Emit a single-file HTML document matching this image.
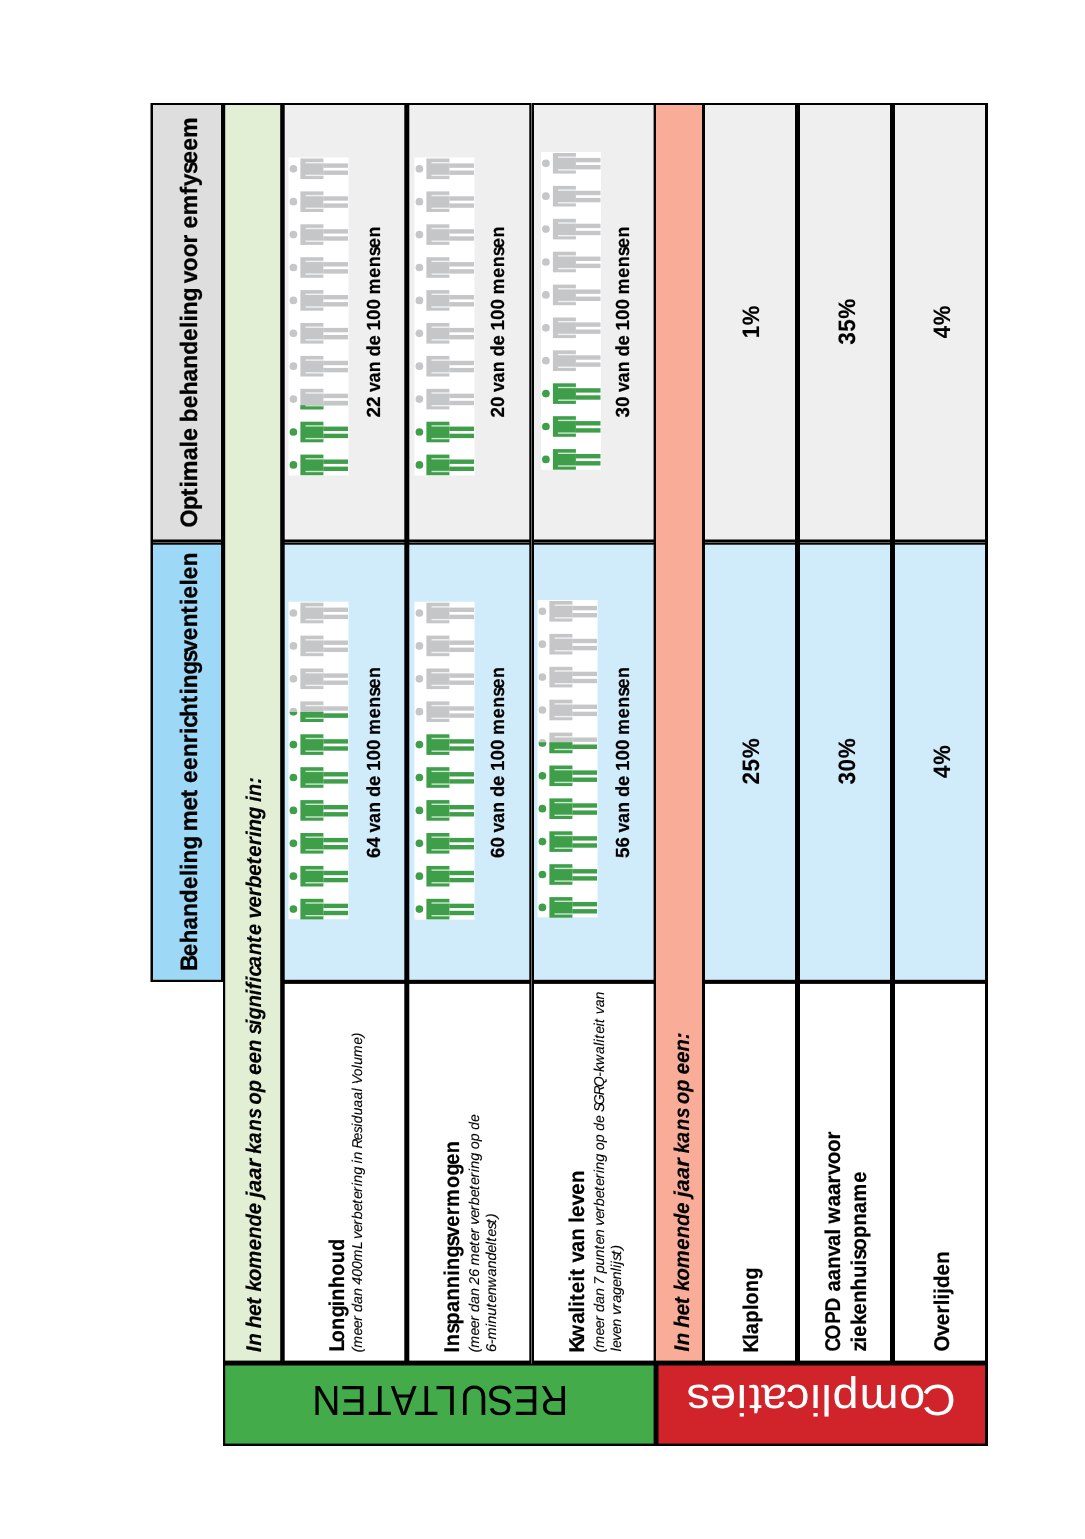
<!DOCTYPE html>
<html lang="nl"><head><meta charset="utf-8"><title>Keuzehulp</title>
<style>
html,body{margin:0;padding:0;background:#fff}
svg{display:block}
text{font-family:"Liberation Sans",sans-serif;text-rendering:geometricPrecision}
</style></head><body>
<svg width="1085" height="1539" viewBox="0 0 1085 1539">
<rect x="150.5" y="103" width="73" height="879" fill="#000"/>
<rect x="223" y="103" width="765" height="1343" fill="#000"/>
<rect x="153" y="105" width="68" height="434.5" fill="#dededf"/>
<rect x="153" y="544.7" width="68" height="435.1" fill="#9dd8f6"/>
<rect x="153" y="542.05" width="68" height="0.8" fill="#7a7a7a"/>
<rect x="225.2" y="105" width="55" height="1255.6" fill="#e2efd5"/>
<rect x="656" y="105" width="46" height="1255.6" fill="#f9ad99"/>
<rect x="284.7" y="105" width="119.6" height="434.5" fill="#efefef"/>
<rect x="284.7" y="544.7" width="119.6" height="435.1" fill="#d0ecfb"/>
<rect x="284.7" y="983.9" width="119.6" height="376.7" fill="#fff"/>
<rect x="284.7" y="542.05" width="119.6" height="0.8" fill="#7a7a7a"/>
<rect x="409.3" y="105" width="120" height="434.5" fill="#efefef"/>
<rect x="409.3" y="544.7" width="120" height="435.1" fill="#d0ecfb"/>
<rect x="409.3" y="983.9" width="120" height="376.7" fill="#fff"/>
<rect x="409.3" y="542.05" width="120" height="0.8" fill="#7a7a7a"/>
<rect x="534" y="105" width="119.6" height="434.5" fill="#efefef"/>
<rect x="534" y="544.7" width="119.6" height="435.1" fill="#d0ecfb"/>
<rect x="534" y="983.9" width="119.6" height="376.7" fill="#fff"/>
<rect x="534" y="542.05" width="119.6" height="0.8" fill="#7a7a7a"/>
<rect x="705" y="105" width="90" height="434.5" fill="#efefef"/>
<rect x="705" y="544.7" width="90" height="435.1" fill="#d0ecfb"/>
<rect x="705" y="983.9" width="90" height="376.7" fill="#fff"/>
<rect x="705" y="542.05" width="90" height="0.8" fill="#7a7a7a"/>
<rect x="800" y="105" width="90" height="434.5" fill="#efefef"/>
<rect x="800" y="544.7" width="90" height="435.1" fill="#d0ecfb"/>
<rect x="800" y="983.9" width="90" height="376.7" fill="#fff"/>
<rect x="800" y="542.05" width="90" height="0.8" fill="#7a7a7a"/>
<rect x="895" y="105" width="90" height="434.5" fill="#efefef"/>
<rect x="895" y="544.7" width="90" height="435.1" fill="#d0ecfb"/>
<rect x="895" y="983.9" width="90" height="376.7" fill="#fff"/>
<rect x="895" y="542.05" width="90" height="0.8" fill="#7a7a7a"/>
<rect x="531.1" y="103" width="0.85" height="1260.5" fill="#808080"/>
<rect x="225.2" y="1365.5" width="428.4" height="78.1" fill="#43ab49"/>
<rect x="658.5" y="1365.5" width="326.5" height="78.1" fill="#d1232a"/>
<rect x="288.5" y="157.5" width="60" height="318" fill="#fff"/>
<circle cx="293.4" cy="168.8" r="3.85" fill="#c5c6c8"/><rect x="300.4" y="158.5" width="23" height="20.6" fill="#c5c6c8"/><rect x="323.3" y="163.4" width="24.7" height="4.4" fill="#c5c6c8"/><rect x="323.3" y="170.5" width="24.7" height="4.4" fill="#c5c6c8"/><rect x="305.5" y="162" width="17.9" height="1.4" fill="#fff" fill-opacity="0.75"/><rect x="305.5" y="174.7" width="17.9" height="1.4" fill="#fff" fill-opacity="0.75"/>
<circle cx="293.4" cy="201.7" r="3.85" fill="#c5c6c8"/><rect x="300.4" y="191.4" width="23" height="20.6" fill="#c5c6c8"/><rect x="323.3" y="196.3" width="24.7" height="4.4" fill="#c5c6c8"/><rect x="323.3" y="203.4" width="24.7" height="4.4" fill="#c5c6c8"/><rect x="305.5" y="194.9" width="17.9" height="1.4" fill="#fff" fill-opacity="0.75"/><rect x="305.5" y="207.6" width="17.9" height="1.4" fill="#fff" fill-opacity="0.75"/>
<circle cx="293.4" cy="234.6" r="3.85" fill="#c5c6c8"/><rect x="300.4" y="224.3" width="23" height="20.6" fill="#c5c6c8"/><rect x="323.3" y="229.2" width="24.7" height="4.4" fill="#c5c6c8"/><rect x="323.3" y="236.3" width="24.7" height="4.4" fill="#c5c6c8"/><rect x="305.5" y="227.8" width="17.9" height="1.4" fill="#fff" fill-opacity="0.75"/><rect x="305.5" y="240.5" width="17.9" height="1.4" fill="#fff" fill-opacity="0.75"/>
<circle cx="293.4" cy="267.5" r="3.85" fill="#c5c6c8"/><rect x="300.4" y="257.2" width="23" height="20.6" fill="#c5c6c8"/><rect x="323.3" y="262.1" width="24.7" height="4.4" fill="#c5c6c8"/><rect x="323.3" y="269.2" width="24.7" height="4.4" fill="#c5c6c8"/><rect x="305.5" y="260.7" width="17.9" height="1.4" fill="#fff" fill-opacity="0.75"/><rect x="305.5" y="273.4" width="17.9" height="1.4" fill="#fff" fill-opacity="0.75"/>
<circle cx="293.4" cy="300.4" r="3.85" fill="#c5c6c8"/><rect x="300.4" y="290.1" width="23" height="20.6" fill="#c5c6c8"/><rect x="323.3" y="295" width="24.7" height="4.4" fill="#c5c6c8"/><rect x="323.3" y="302.1" width="24.7" height="4.4" fill="#c5c6c8"/><rect x="305.5" y="293.6" width="17.9" height="1.4" fill="#fff" fill-opacity="0.75"/><rect x="305.5" y="306.3" width="17.9" height="1.4" fill="#fff" fill-opacity="0.75"/>
<circle cx="293.4" cy="333.3" r="3.85" fill="#c5c6c8"/><rect x="300.4" y="323" width="23" height="20.6" fill="#c5c6c8"/><rect x="323.3" y="327.9" width="24.7" height="4.4" fill="#c5c6c8"/><rect x="323.3" y="335" width="24.7" height="4.4" fill="#c5c6c8"/><rect x="305.5" y="326.5" width="17.9" height="1.4" fill="#fff" fill-opacity="0.75"/><rect x="305.5" y="339.2" width="17.9" height="1.4" fill="#fff" fill-opacity="0.75"/>
<circle cx="293.4" cy="366.2" r="3.85" fill="#c5c6c8"/><rect x="300.4" y="355.9" width="23" height="20.6" fill="#c5c6c8"/><rect x="323.3" y="360.8" width="24.7" height="4.4" fill="#c5c6c8"/><rect x="323.3" y="367.9" width="24.7" height="4.4" fill="#c5c6c8"/><rect x="305.5" y="359.4" width="17.9" height="1.4" fill="#fff" fill-opacity="0.75"/><rect x="305.5" y="372.1" width="17.9" height="1.4" fill="#fff" fill-opacity="0.75"/>
<circle cx="293.4" cy="399.1" r="3.85" fill="#c5c6c8"/><rect x="300.4" y="388.8" width="23" height="20.6" fill="#c5c6c8"/><rect x="323.3" y="393.7" width="24.7" height="4.4" fill="#c5c6c8"/><rect x="323.3" y="400.8" width="24.7" height="4.4" fill="#c5c6c8"/><rect x="305.5" y="392.3" width="17.9" height="1.4" fill="#fff" fill-opacity="0.75"/><rect x="305.5" y="405" width="17.9" height="1.4" fill="#fff" fill-opacity="0.75"/>
<clipPath id="c1"><rect x="288.5" y="405.28" width="60" height="5.12"/></clipPath>
<g clip-path="url(#c1)"><circle cx="293.4" cy="399.1" r="3.85" fill="#3f9e4a"/><rect x="300.4" y="388.8" width="23" height="20.6" fill="#3f9e4a"/><rect x="323.3" y="393.7" width="24.7" height="4.4" fill="#3f9e4a"/><rect x="323.3" y="400.8" width="24.7" height="4.4" fill="#3f9e4a"/><rect x="305.5" y="392.3" width="17.9" height="1.4" fill="#fff" fill-opacity="0.75"/><rect x="305.5" y="405" width="17.9" height="1.4" fill="#fff" fill-opacity="0.75"/></g>
<circle cx="293.4" cy="432" r="3.85" fill="#3f9e4a"/><rect x="300.4" y="421.7" width="23" height="20.6" fill="#3f9e4a"/><rect x="323.3" y="426.6" width="24.7" height="4.4" fill="#3f9e4a"/><rect x="323.3" y="433.7" width="24.7" height="4.4" fill="#3f9e4a"/><rect x="305.5" y="425.2" width="17.9" height="1.4" fill="#fff" fill-opacity="0.75"/><rect x="305.5" y="437.9" width="17.9" height="1.4" fill="#fff" fill-opacity="0.75"/>
<circle cx="293.4" cy="464.9" r="3.85" fill="#3f9e4a"/><rect x="300.4" y="454.6" width="23" height="20.6" fill="#3f9e4a"/><rect x="323.3" y="459.5" width="24.7" height="4.4" fill="#3f9e4a"/><rect x="323.3" y="466.6" width="24.7" height="4.4" fill="#3f9e4a"/><rect x="305.5" y="458.1" width="17.9" height="1.4" fill="#fff" fill-opacity="0.75"/><rect x="305.5" y="470.8" width="17.9" height="1.4" fill="#fff" fill-opacity="0.75"/>
<rect x="414.5" y="157.5" width="60" height="318" fill="#fff"/>
<circle cx="419.4" cy="168.8" r="3.85" fill="#c5c6c8"/><rect x="426.4" y="158.5" width="23" height="20.6" fill="#c5c6c8"/><rect x="449.3" y="163.4" width="24.7" height="4.4" fill="#c5c6c8"/><rect x="449.3" y="170.5" width="24.7" height="4.4" fill="#c5c6c8"/><rect x="431.5" y="162" width="17.9" height="1.4" fill="#fff" fill-opacity="0.75"/><rect x="431.5" y="174.7" width="17.9" height="1.4" fill="#fff" fill-opacity="0.75"/>
<circle cx="419.4" cy="201.7" r="3.85" fill="#c5c6c8"/><rect x="426.4" y="191.4" width="23" height="20.6" fill="#c5c6c8"/><rect x="449.3" y="196.3" width="24.7" height="4.4" fill="#c5c6c8"/><rect x="449.3" y="203.4" width="24.7" height="4.4" fill="#c5c6c8"/><rect x="431.5" y="194.9" width="17.9" height="1.4" fill="#fff" fill-opacity="0.75"/><rect x="431.5" y="207.6" width="17.9" height="1.4" fill="#fff" fill-opacity="0.75"/>
<circle cx="419.4" cy="234.6" r="3.85" fill="#c5c6c8"/><rect x="426.4" y="224.3" width="23" height="20.6" fill="#c5c6c8"/><rect x="449.3" y="229.2" width="24.7" height="4.4" fill="#c5c6c8"/><rect x="449.3" y="236.3" width="24.7" height="4.4" fill="#c5c6c8"/><rect x="431.5" y="227.8" width="17.9" height="1.4" fill="#fff" fill-opacity="0.75"/><rect x="431.5" y="240.5" width="17.9" height="1.4" fill="#fff" fill-opacity="0.75"/>
<circle cx="419.4" cy="267.5" r="3.85" fill="#c5c6c8"/><rect x="426.4" y="257.2" width="23" height="20.6" fill="#c5c6c8"/><rect x="449.3" y="262.1" width="24.7" height="4.4" fill="#c5c6c8"/><rect x="449.3" y="269.2" width="24.7" height="4.4" fill="#c5c6c8"/><rect x="431.5" y="260.7" width="17.9" height="1.4" fill="#fff" fill-opacity="0.75"/><rect x="431.5" y="273.4" width="17.9" height="1.4" fill="#fff" fill-opacity="0.75"/>
<circle cx="419.4" cy="300.4" r="3.85" fill="#c5c6c8"/><rect x="426.4" y="290.1" width="23" height="20.6" fill="#c5c6c8"/><rect x="449.3" y="295" width="24.7" height="4.4" fill="#c5c6c8"/><rect x="449.3" y="302.1" width="24.7" height="4.4" fill="#c5c6c8"/><rect x="431.5" y="293.6" width="17.9" height="1.4" fill="#fff" fill-opacity="0.75"/><rect x="431.5" y="306.3" width="17.9" height="1.4" fill="#fff" fill-opacity="0.75"/>
<circle cx="419.4" cy="333.3" r="3.85" fill="#c5c6c8"/><rect x="426.4" y="323" width="23" height="20.6" fill="#c5c6c8"/><rect x="449.3" y="327.9" width="24.7" height="4.4" fill="#c5c6c8"/><rect x="449.3" y="335" width="24.7" height="4.4" fill="#c5c6c8"/><rect x="431.5" y="326.5" width="17.9" height="1.4" fill="#fff" fill-opacity="0.75"/><rect x="431.5" y="339.2" width="17.9" height="1.4" fill="#fff" fill-opacity="0.75"/>
<circle cx="419.4" cy="366.2" r="3.85" fill="#c5c6c8"/><rect x="426.4" y="355.9" width="23" height="20.6" fill="#c5c6c8"/><rect x="449.3" y="360.8" width="24.7" height="4.4" fill="#c5c6c8"/><rect x="449.3" y="367.9" width="24.7" height="4.4" fill="#c5c6c8"/><rect x="431.5" y="359.4" width="17.9" height="1.4" fill="#fff" fill-opacity="0.75"/><rect x="431.5" y="372.1" width="17.9" height="1.4" fill="#fff" fill-opacity="0.75"/>
<circle cx="419.4" cy="399.1" r="3.85" fill="#c5c6c8"/><rect x="426.4" y="388.8" width="23" height="20.6" fill="#c5c6c8"/><rect x="449.3" y="393.7" width="24.7" height="4.4" fill="#c5c6c8"/><rect x="449.3" y="400.8" width="24.7" height="4.4" fill="#c5c6c8"/><rect x="431.5" y="392.3" width="17.9" height="1.4" fill="#fff" fill-opacity="0.75"/><rect x="431.5" y="405" width="17.9" height="1.4" fill="#fff" fill-opacity="0.75"/>
<circle cx="419.4" cy="432" r="3.85" fill="#3f9e4a"/><rect x="426.4" y="421.7" width="23" height="20.6" fill="#3f9e4a"/><rect x="449.3" y="426.6" width="24.7" height="4.4" fill="#3f9e4a"/><rect x="449.3" y="433.7" width="24.7" height="4.4" fill="#3f9e4a"/><rect x="431.5" y="425.2" width="17.9" height="1.4" fill="#fff" fill-opacity="0.75"/><rect x="431.5" y="437.9" width="17.9" height="1.4" fill="#fff" fill-opacity="0.75"/>
<circle cx="419.4" cy="464.9" r="3.85" fill="#3f9e4a"/><rect x="426.4" y="454.6" width="23" height="20.6" fill="#3f9e4a"/><rect x="449.3" y="459.5" width="24.7" height="4.4" fill="#3f9e4a"/><rect x="449.3" y="466.6" width="24.7" height="4.4" fill="#3f9e4a"/><rect x="431.5" y="458.1" width="17.9" height="1.4" fill="#fff" fill-opacity="0.75"/><rect x="431.5" y="470.8" width="17.9" height="1.4" fill="#fff" fill-opacity="0.75"/>
<rect x="541" y="152" width="60" height="317.6" fill="#fff"/>
<circle cx="545.9" cy="163.3" r="3.85" fill="#c5c6c8"/><rect x="552.9" y="153" width="23" height="20.6" fill="#c5c6c8"/><rect x="575.8" y="157.9" width="24.7" height="4.4" fill="#c5c6c8"/><rect x="575.8" y="165" width="24.7" height="4.4" fill="#c5c6c8"/><rect x="558" y="156.5" width="17.9" height="1.4" fill="#fff" fill-opacity="0.75"/><rect x="558" y="169.2" width="17.9" height="1.4" fill="#fff" fill-opacity="0.75"/>
<circle cx="545.9" cy="196.2" r="3.85" fill="#c5c6c8"/><rect x="552.9" y="185.9" width="23" height="20.6" fill="#c5c6c8"/><rect x="575.8" y="190.8" width="24.7" height="4.4" fill="#c5c6c8"/><rect x="575.8" y="197.9" width="24.7" height="4.4" fill="#c5c6c8"/><rect x="558" y="189.4" width="17.9" height="1.4" fill="#fff" fill-opacity="0.75"/><rect x="558" y="202.1" width="17.9" height="1.4" fill="#fff" fill-opacity="0.75"/>
<circle cx="545.9" cy="229.1" r="3.85" fill="#c5c6c8"/><rect x="552.9" y="218.8" width="23" height="20.6" fill="#c5c6c8"/><rect x="575.8" y="223.7" width="24.7" height="4.4" fill="#c5c6c8"/><rect x="575.8" y="230.8" width="24.7" height="4.4" fill="#c5c6c8"/><rect x="558" y="222.3" width="17.9" height="1.4" fill="#fff" fill-opacity="0.75"/><rect x="558" y="235" width="17.9" height="1.4" fill="#fff" fill-opacity="0.75"/>
<circle cx="545.9" cy="262" r="3.85" fill="#c5c6c8"/><rect x="552.9" y="251.7" width="23" height="20.6" fill="#c5c6c8"/><rect x="575.8" y="256.6" width="24.7" height="4.4" fill="#c5c6c8"/><rect x="575.8" y="263.7" width="24.7" height="4.4" fill="#c5c6c8"/><rect x="558" y="255.2" width="17.9" height="1.4" fill="#fff" fill-opacity="0.75"/><rect x="558" y="267.9" width="17.9" height="1.4" fill="#fff" fill-opacity="0.75"/>
<circle cx="545.9" cy="294.9" r="3.85" fill="#c5c6c8"/><rect x="552.9" y="284.6" width="23" height="20.6" fill="#c5c6c8"/><rect x="575.8" y="289.5" width="24.7" height="4.4" fill="#c5c6c8"/><rect x="575.8" y="296.6" width="24.7" height="4.4" fill="#c5c6c8"/><rect x="558" y="288.1" width="17.9" height="1.4" fill="#fff" fill-opacity="0.75"/><rect x="558" y="300.8" width="17.9" height="1.4" fill="#fff" fill-opacity="0.75"/>
<circle cx="545.9" cy="327.8" r="3.85" fill="#c5c6c8"/><rect x="552.9" y="317.5" width="23" height="20.6" fill="#c5c6c8"/><rect x="575.8" y="322.4" width="24.7" height="4.4" fill="#c5c6c8"/><rect x="575.8" y="329.5" width="24.7" height="4.4" fill="#c5c6c8"/><rect x="558" y="321" width="17.9" height="1.4" fill="#fff" fill-opacity="0.75"/><rect x="558" y="333.7" width="17.9" height="1.4" fill="#fff" fill-opacity="0.75"/>
<circle cx="545.9" cy="360.7" r="3.85" fill="#c5c6c8"/><rect x="552.9" y="350.4" width="23" height="20.6" fill="#c5c6c8"/><rect x="575.8" y="355.3" width="24.7" height="4.4" fill="#c5c6c8"/><rect x="575.8" y="362.4" width="24.7" height="4.4" fill="#c5c6c8"/><rect x="558" y="353.9" width="17.9" height="1.4" fill="#fff" fill-opacity="0.75"/><rect x="558" y="366.6" width="17.9" height="1.4" fill="#fff" fill-opacity="0.75"/>
<circle cx="545.9" cy="393.6" r="3.85" fill="#3f9e4a"/><rect x="552.9" y="383.3" width="23" height="20.6" fill="#3f9e4a"/><rect x="575.8" y="388.2" width="24.7" height="4.4" fill="#3f9e4a"/><rect x="575.8" y="395.3" width="24.7" height="4.4" fill="#3f9e4a"/><rect x="558" y="386.8" width="17.9" height="1.4" fill="#fff" fill-opacity="0.75"/><rect x="558" y="399.5" width="17.9" height="1.4" fill="#fff" fill-opacity="0.75"/>
<circle cx="545.9" cy="426.5" r="3.85" fill="#3f9e4a"/><rect x="552.9" y="416.2" width="23" height="20.6" fill="#3f9e4a"/><rect x="575.8" y="421.1" width="24.7" height="4.4" fill="#3f9e4a"/><rect x="575.8" y="428.2" width="24.7" height="4.4" fill="#3f9e4a"/><rect x="558" y="419.7" width="17.9" height="1.4" fill="#fff" fill-opacity="0.75"/><rect x="558" y="432.4" width="17.9" height="1.4" fill="#fff" fill-opacity="0.75"/>
<circle cx="545.9" cy="459.4" r="3.85" fill="#3f9e4a"/><rect x="552.9" y="449.1" width="23" height="20.6" fill="#3f9e4a"/><rect x="575.8" y="454" width="24.7" height="4.4" fill="#3f9e4a"/><rect x="575.8" y="461.1" width="24.7" height="4.4" fill="#3f9e4a"/><rect x="558" y="452.6" width="17.9" height="1.4" fill="#fff" fill-opacity="0.75"/><rect x="558" y="465.3" width="17.9" height="1.4" fill="#fff" fill-opacity="0.75"/>
<rect x="288.5" y="601.7" width="60" height="317.5" fill="#fff"/>
<circle cx="293.4" cy="613" r="3.85" fill="#c5c6c8"/><rect x="300.4" y="602.7" width="23" height="20.6" fill="#c5c6c8"/><rect x="323.3" y="607.6" width="24.7" height="4.4" fill="#c5c6c8"/><rect x="323.3" y="614.7" width="24.7" height="4.4" fill="#c5c6c8"/><rect x="305.5" y="606.2" width="17.9" height="1.4" fill="#fff" fill-opacity="0.75"/><rect x="305.5" y="618.9" width="17.9" height="1.4" fill="#fff" fill-opacity="0.75"/>
<circle cx="293.4" cy="645.9" r="3.85" fill="#c5c6c8"/><rect x="300.4" y="635.6" width="23" height="20.6" fill="#c5c6c8"/><rect x="323.3" y="640.5" width="24.7" height="4.4" fill="#c5c6c8"/><rect x="323.3" y="647.6" width="24.7" height="4.4" fill="#c5c6c8"/><rect x="305.5" y="639.1" width="17.9" height="1.4" fill="#fff" fill-opacity="0.75"/><rect x="305.5" y="651.8" width="17.9" height="1.4" fill="#fff" fill-opacity="0.75"/>
<circle cx="293.4" cy="678.8" r="3.85" fill="#c5c6c8"/><rect x="300.4" y="668.5" width="23" height="20.6" fill="#c5c6c8"/><rect x="323.3" y="673.4" width="24.7" height="4.4" fill="#c5c6c8"/><rect x="323.3" y="680.5" width="24.7" height="4.4" fill="#c5c6c8"/><rect x="305.5" y="672" width="17.9" height="1.4" fill="#fff" fill-opacity="0.75"/><rect x="305.5" y="684.7" width="17.9" height="1.4" fill="#fff" fill-opacity="0.75"/>
<circle cx="293.4" cy="711.7" r="3.85" fill="#c5c6c8"/><rect x="300.4" y="701.4" width="23" height="20.6" fill="#c5c6c8"/><rect x="323.3" y="706.3" width="24.7" height="4.4" fill="#c5c6c8"/><rect x="323.3" y="713.4" width="24.7" height="4.4" fill="#c5c6c8"/><rect x="305.5" y="704.9" width="17.9" height="1.4" fill="#fff" fill-opacity="0.75"/><rect x="305.5" y="717.6" width="17.9" height="1.4" fill="#fff" fill-opacity="0.75"/>
<clipPath id="c2"><rect x="288.5" y="712.112" width="60" height="10.888"/></clipPath>
<g clip-path="url(#c2)"><circle cx="293.4" cy="711.7" r="3.85" fill="#3f9e4a"/><rect x="300.4" y="701.4" width="23" height="20.6" fill="#3f9e4a"/><rect x="323.3" y="706.3" width="24.7" height="4.4" fill="#3f9e4a"/><rect x="323.3" y="713.4" width="24.7" height="4.4" fill="#3f9e4a"/><rect x="305.5" y="704.9" width="17.9" height="1.4" fill="#fff" fill-opacity="0.75"/><rect x="305.5" y="717.6" width="17.9" height="1.4" fill="#fff" fill-opacity="0.75"/></g>
<circle cx="293.4" cy="744.6" r="3.85" fill="#3f9e4a"/><rect x="300.4" y="734.3" width="23" height="20.6" fill="#3f9e4a"/><rect x="323.3" y="739.2" width="24.7" height="4.4" fill="#3f9e4a"/><rect x="323.3" y="746.3" width="24.7" height="4.4" fill="#3f9e4a"/><rect x="305.5" y="737.8" width="17.9" height="1.4" fill="#fff" fill-opacity="0.75"/><rect x="305.5" y="750.5" width="17.9" height="1.4" fill="#fff" fill-opacity="0.75"/>
<circle cx="293.4" cy="777.5" r="3.85" fill="#3f9e4a"/><rect x="300.4" y="767.2" width="23" height="20.6" fill="#3f9e4a"/><rect x="323.3" y="772.1" width="24.7" height="4.4" fill="#3f9e4a"/><rect x="323.3" y="779.2" width="24.7" height="4.4" fill="#3f9e4a"/><rect x="305.5" y="770.7" width="17.9" height="1.4" fill="#fff" fill-opacity="0.75"/><rect x="305.5" y="783.4" width="17.9" height="1.4" fill="#fff" fill-opacity="0.75"/>
<circle cx="293.4" cy="810.4" r="3.85" fill="#3f9e4a"/><rect x="300.4" y="800.1" width="23" height="20.6" fill="#3f9e4a"/><rect x="323.3" y="805" width="24.7" height="4.4" fill="#3f9e4a"/><rect x="323.3" y="812.1" width="24.7" height="4.4" fill="#3f9e4a"/><rect x="305.5" y="803.6" width="17.9" height="1.4" fill="#fff" fill-opacity="0.75"/><rect x="305.5" y="816.3" width="17.9" height="1.4" fill="#fff" fill-opacity="0.75"/>
<circle cx="293.4" cy="843.3" r="3.85" fill="#3f9e4a"/><rect x="300.4" y="833" width="23" height="20.6" fill="#3f9e4a"/><rect x="323.3" y="837.9" width="24.7" height="4.4" fill="#3f9e4a"/><rect x="323.3" y="845" width="24.7" height="4.4" fill="#3f9e4a"/><rect x="305.5" y="836.5" width="17.9" height="1.4" fill="#fff" fill-opacity="0.75"/><rect x="305.5" y="849.2" width="17.9" height="1.4" fill="#fff" fill-opacity="0.75"/>
<circle cx="293.4" cy="876.2" r="3.85" fill="#3f9e4a"/><rect x="300.4" y="865.9" width="23" height="20.6" fill="#3f9e4a"/><rect x="323.3" y="870.8" width="24.7" height="4.4" fill="#3f9e4a"/><rect x="323.3" y="877.9" width="24.7" height="4.4" fill="#3f9e4a"/><rect x="305.5" y="869.4" width="17.9" height="1.4" fill="#fff" fill-opacity="0.75"/><rect x="305.5" y="882.1" width="17.9" height="1.4" fill="#fff" fill-opacity="0.75"/>
<circle cx="293.4" cy="909.1" r="3.85" fill="#3f9e4a"/><rect x="300.4" y="898.8" width="23" height="20.6" fill="#3f9e4a"/><rect x="323.3" y="903.7" width="24.7" height="4.4" fill="#3f9e4a"/><rect x="323.3" y="910.8" width="24.7" height="4.4" fill="#3f9e4a"/><rect x="305.5" y="902.3" width="17.9" height="1.4" fill="#fff" fill-opacity="0.75"/><rect x="305.5" y="915" width="17.9" height="1.4" fill="#fff" fill-opacity="0.75"/>
<rect x="414.5" y="601.7" width="60" height="318" fill="#fff"/>
<circle cx="419.4" cy="613" r="3.85" fill="#c5c6c8"/><rect x="426.4" y="602.7" width="23" height="20.6" fill="#c5c6c8"/><rect x="449.3" y="607.6" width="24.7" height="4.4" fill="#c5c6c8"/><rect x="449.3" y="614.7" width="24.7" height="4.4" fill="#c5c6c8"/><rect x="431.5" y="606.2" width="17.9" height="1.4" fill="#fff" fill-opacity="0.75"/><rect x="431.5" y="618.9" width="17.9" height="1.4" fill="#fff" fill-opacity="0.75"/>
<circle cx="419.4" cy="645.9" r="3.85" fill="#c5c6c8"/><rect x="426.4" y="635.6" width="23" height="20.6" fill="#c5c6c8"/><rect x="449.3" y="640.5" width="24.7" height="4.4" fill="#c5c6c8"/><rect x="449.3" y="647.6" width="24.7" height="4.4" fill="#c5c6c8"/><rect x="431.5" y="639.1" width="17.9" height="1.4" fill="#fff" fill-opacity="0.75"/><rect x="431.5" y="651.8" width="17.9" height="1.4" fill="#fff" fill-opacity="0.75"/>
<circle cx="419.4" cy="678.8" r="3.85" fill="#c5c6c8"/><rect x="426.4" y="668.5" width="23" height="20.6" fill="#c5c6c8"/><rect x="449.3" y="673.4" width="24.7" height="4.4" fill="#c5c6c8"/><rect x="449.3" y="680.5" width="24.7" height="4.4" fill="#c5c6c8"/><rect x="431.5" y="672" width="17.9" height="1.4" fill="#fff" fill-opacity="0.75"/><rect x="431.5" y="684.7" width="17.9" height="1.4" fill="#fff" fill-opacity="0.75"/>
<circle cx="419.4" cy="711.7" r="3.85" fill="#c5c6c8"/><rect x="426.4" y="701.4" width="23" height="20.6" fill="#c5c6c8"/><rect x="449.3" y="706.3" width="24.7" height="4.4" fill="#c5c6c8"/><rect x="449.3" y="713.4" width="24.7" height="4.4" fill="#c5c6c8"/><rect x="431.5" y="704.9" width="17.9" height="1.4" fill="#fff" fill-opacity="0.75"/><rect x="431.5" y="717.6" width="17.9" height="1.4" fill="#fff" fill-opacity="0.75"/>
<circle cx="419.4" cy="744.6" r="3.85" fill="#3f9e4a"/><rect x="426.4" y="734.3" width="23" height="20.6" fill="#3f9e4a"/><rect x="449.3" y="739.2" width="24.7" height="4.4" fill="#3f9e4a"/><rect x="449.3" y="746.3" width="24.7" height="4.4" fill="#3f9e4a"/><rect x="431.5" y="737.8" width="17.9" height="1.4" fill="#fff" fill-opacity="0.75"/><rect x="431.5" y="750.5" width="17.9" height="1.4" fill="#fff" fill-opacity="0.75"/>
<circle cx="419.4" cy="777.5" r="3.85" fill="#3f9e4a"/><rect x="426.4" y="767.2" width="23" height="20.6" fill="#3f9e4a"/><rect x="449.3" y="772.1" width="24.7" height="4.4" fill="#3f9e4a"/><rect x="449.3" y="779.2" width="24.7" height="4.4" fill="#3f9e4a"/><rect x="431.5" y="770.7" width="17.9" height="1.4" fill="#fff" fill-opacity="0.75"/><rect x="431.5" y="783.4" width="17.9" height="1.4" fill="#fff" fill-opacity="0.75"/>
<circle cx="419.4" cy="810.4" r="3.85" fill="#3f9e4a"/><rect x="426.4" y="800.1" width="23" height="20.6" fill="#3f9e4a"/><rect x="449.3" y="805" width="24.7" height="4.4" fill="#3f9e4a"/><rect x="449.3" y="812.1" width="24.7" height="4.4" fill="#3f9e4a"/><rect x="431.5" y="803.6" width="17.9" height="1.4" fill="#fff" fill-opacity="0.75"/><rect x="431.5" y="816.3" width="17.9" height="1.4" fill="#fff" fill-opacity="0.75"/>
<circle cx="419.4" cy="843.3" r="3.85" fill="#3f9e4a"/><rect x="426.4" y="833" width="23" height="20.6" fill="#3f9e4a"/><rect x="449.3" y="837.9" width="24.7" height="4.4" fill="#3f9e4a"/><rect x="449.3" y="845" width="24.7" height="4.4" fill="#3f9e4a"/><rect x="431.5" y="836.5" width="17.9" height="1.4" fill="#fff" fill-opacity="0.75"/><rect x="431.5" y="849.2" width="17.9" height="1.4" fill="#fff" fill-opacity="0.75"/>
<circle cx="419.4" cy="876.2" r="3.85" fill="#3f9e4a"/><rect x="426.4" y="865.9" width="23" height="20.6" fill="#3f9e4a"/><rect x="449.3" y="870.8" width="24.7" height="4.4" fill="#3f9e4a"/><rect x="449.3" y="877.9" width="24.7" height="4.4" fill="#3f9e4a"/><rect x="431.5" y="869.4" width="17.9" height="1.4" fill="#fff" fill-opacity="0.75"/><rect x="431.5" y="882.1" width="17.9" height="1.4" fill="#fff" fill-opacity="0.75"/>
<circle cx="419.4" cy="909.1" r="3.85" fill="#3f9e4a"/><rect x="426.4" y="898.8" width="23" height="20.6" fill="#3f9e4a"/><rect x="449.3" y="903.7" width="24.7" height="4.4" fill="#3f9e4a"/><rect x="449.3" y="910.8" width="24.7" height="4.4" fill="#3f9e4a"/><rect x="431.5" y="902.3" width="17.9" height="1.4" fill="#fff" fill-opacity="0.75"/><rect x="431.5" y="915" width="17.9" height="1.4" fill="#fff" fill-opacity="0.75"/>
<rect x="537.5" y="600" width="60" height="317.3" fill="#fff"/>
<circle cx="542.4" cy="611.3" r="3.85" fill="#c5c6c8"/><rect x="549.4" y="601" width="23" height="20.6" fill="#c5c6c8"/><rect x="572.3" y="605.9" width="24.7" height="4.4" fill="#c5c6c8"/><rect x="572.3" y="613" width="24.7" height="4.4" fill="#c5c6c8"/><rect x="554.5" y="604.5" width="17.9" height="1.4" fill="#fff" fill-opacity="0.75"/><rect x="554.5" y="617.2" width="17.9" height="1.4" fill="#fff" fill-opacity="0.75"/>
<circle cx="542.4" cy="644.2" r="3.85" fill="#c5c6c8"/><rect x="549.4" y="633.9" width="23" height="20.6" fill="#c5c6c8"/><rect x="572.3" y="638.8" width="24.7" height="4.4" fill="#c5c6c8"/><rect x="572.3" y="645.9" width="24.7" height="4.4" fill="#c5c6c8"/><rect x="554.5" y="637.4" width="17.9" height="1.4" fill="#fff" fill-opacity="0.75"/><rect x="554.5" y="650.1" width="17.9" height="1.4" fill="#fff" fill-opacity="0.75"/>
<circle cx="542.4" cy="677.1" r="3.85" fill="#c5c6c8"/><rect x="549.4" y="666.8" width="23" height="20.6" fill="#c5c6c8"/><rect x="572.3" y="671.7" width="24.7" height="4.4" fill="#c5c6c8"/><rect x="572.3" y="678.8" width="24.7" height="4.4" fill="#c5c6c8"/><rect x="554.5" y="670.3" width="17.9" height="1.4" fill="#fff" fill-opacity="0.75"/><rect x="554.5" y="683" width="17.9" height="1.4" fill="#fff" fill-opacity="0.75"/>
<circle cx="542.4" cy="710" r="3.85" fill="#c5c6c8"/><rect x="549.4" y="699.7" width="23" height="20.6" fill="#c5c6c8"/><rect x="572.3" y="704.6" width="24.7" height="4.4" fill="#c5c6c8"/><rect x="572.3" y="711.7" width="24.7" height="4.4" fill="#c5c6c8"/><rect x="554.5" y="703.2" width="17.9" height="1.4" fill="#fff" fill-opacity="0.75"/><rect x="554.5" y="715.9" width="17.9" height="1.4" fill="#fff" fill-opacity="0.75"/>
<circle cx="542.4" cy="742.9" r="3.85" fill="#c5c6c8"/><rect x="549.4" y="732.6" width="23" height="20.6" fill="#c5c6c8"/><rect x="572.3" y="737.5" width="24.7" height="4.4" fill="#c5c6c8"/><rect x="572.3" y="744.6" width="24.7" height="4.4" fill="#c5c6c8"/><rect x="554.5" y="736.1" width="17.9" height="1.4" fill="#fff" fill-opacity="0.75"/><rect x="554.5" y="748.8" width="17.9" height="1.4" fill="#fff" fill-opacity="0.75"/>
<clipPath id="c3"><rect x="537.5" y="742.282" width="60" height="11.918"/></clipPath>
<g clip-path="url(#c3)"><circle cx="542.4" cy="742.9" r="3.85" fill="#3f9e4a"/><rect x="549.4" y="732.6" width="23" height="20.6" fill="#3f9e4a"/><rect x="572.3" y="737.5" width="24.7" height="4.4" fill="#3f9e4a"/><rect x="572.3" y="744.6" width="24.7" height="4.4" fill="#3f9e4a"/><rect x="554.5" y="736.1" width="17.9" height="1.4" fill="#fff" fill-opacity="0.75"/><rect x="554.5" y="748.8" width="17.9" height="1.4" fill="#fff" fill-opacity="0.75"/></g>
<circle cx="542.4" cy="775.8" r="3.85" fill="#3f9e4a"/><rect x="549.4" y="765.5" width="23" height="20.6" fill="#3f9e4a"/><rect x="572.3" y="770.4" width="24.7" height="4.4" fill="#3f9e4a"/><rect x="572.3" y="777.5" width="24.7" height="4.4" fill="#3f9e4a"/><rect x="554.5" y="769" width="17.9" height="1.4" fill="#fff" fill-opacity="0.75"/><rect x="554.5" y="781.7" width="17.9" height="1.4" fill="#fff" fill-opacity="0.75"/>
<circle cx="542.4" cy="808.7" r="3.85" fill="#3f9e4a"/><rect x="549.4" y="798.4" width="23" height="20.6" fill="#3f9e4a"/><rect x="572.3" y="803.3" width="24.7" height="4.4" fill="#3f9e4a"/><rect x="572.3" y="810.4" width="24.7" height="4.4" fill="#3f9e4a"/><rect x="554.5" y="801.9" width="17.9" height="1.4" fill="#fff" fill-opacity="0.75"/><rect x="554.5" y="814.6" width="17.9" height="1.4" fill="#fff" fill-opacity="0.75"/>
<circle cx="542.4" cy="841.6" r="3.85" fill="#3f9e4a"/><rect x="549.4" y="831.3" width="23" height="20.6" fill="#3f9e4a"/><rect x="572.3" y="836.2" width="24.7" height="4.4" fill="#3f9e4a"/><rect x="572.3" y="843.3" width="24.7" height="4.4" fill="#3f9e4a"/><rect x="554.5" y="834.8" width="17.9" height="1.4" fill="#fff" fill-opacity="0.75"/><rect x="554.5" y="847.5" width="17.9" height="1.4" fill="#fff" fill-opacity="0.75"/>
<circle cx="542.4" cy="874.5" r="3.85" fill="#3f9e4a"/><rect x="549.4" y="864.2" width="23" height="20.6" fill="#3f9e4a"/><rect x="572.3" y="869.1" width="24.7" height="4.4" fill="#3f9e4a"/><rect x="572.3" y="876.2" width="24.7" height="4.4" fill="#3f9e4a"/><rect x="554.5" y="867.7" width="17.9" height="1.4" fill="#fff" fill-opacity="0.75"/><rect x="554.5" y="880.4" width="17.9" height="1.4" fill="#fff" fill-opacity="0.75"/>
<circle cx="542.4" cy="907.4" r="3.85" fill="#3f9e4a"/><rect x="549.4" y="897.1" width="23" height="20.6" fill="#3f9e4a"/><rect x="572.3" y="902" width="24.7" height="4.4" fill="#3f9e4a"/><rect x="572.3" y="909.1" width="24.7" height="4.4" fill="#3f9e4a"/><rect x="554.5" y="900.6" width="17.9" height="1.4" fill="#fff" fill-opacity="0.75"/><rect x="554.5" y="913.3" width="17.9" height="1.4" fill="#fff" fill-opacity="0.75"/>
<text transform="translate(197.2 527.6) rotate(-90)" font-size="23.72" font-weight="bold" font-style="normal" fill="#000" stroke="#000" stroke-width="0.3"><tspan x="0.00 17.49 31.26 40.05 46.40 67.43 80.20 86.55" textLength="99.57" lengthAdjust="spacingAndGlyphs">Optimale</tspan> <tspan x="105.41 119.29 132.31 146.18 158.95 172.82 186.70 199.71 206.06 212.42 226.29" textLength="133.14" lengthAdjust="spacingAndGlyphs">behandeling</tspan> <tspan x="244.40 256.39 270.29 284.19" textLength="48.99" lengthAdjust="spacingAndGlyphs">voor</tspan> <tspan x="299.23 312.25 333.14 341.45 353.53 363.85 376.87 389.88" textLength="111.69" lengthAdjust="spacingAndGlyphs">emfyseem</tspan></text>
<text transform="translate(197.2 970.7) rotate(-90)" font-size="23.72" font-weight="bold" font-style="normal" fill="#000" stroke="#000" stroke-width="0.3"><tspan x="0.00 14.45 27.43 41.26 53.99 67.82 81.66 94.64 100.97 107.30 121.13" textLength="133.36" lengthAdjust="spacingAndGlyphs">Behandeling</tspan> <tspan x="139.19 160.16 172.96" textLength="42.71" lengthAdjust="spacingAndGlyphs">met</tspan> <tspan x="187.73 200.70 213.68 227.52 236.68 243.01 253.80 267.39 276.16 282.49 296.32 308.54 318.48 330.43 343.41 357.01 365.77 372.10 385.08 391.41 404.39" textLength="230.50" lengthAdjust="spacingAndGlyphs">eenrichtingsventielen</tspan></text>
<text transform="translate(261.4 1352) rotate(-90)" font-size="21.35" font-weight="bold" font-style="italic" fill="#000" stroke="#000" stroke-width="0.1"><tspan x="0.00 6.19" textLength="18.42" lengthAdjust="spacingAndGlyphs">In</tspan> <tspan x="23.67 35.90 47.14" textLength="31.52" lengthAdjust="spacingAndGlyphs">het</tspan> <tspan x="60.43 70.90 83.13 101.78 113.18 125.41 137.66" textLength="88.63" lengthAdjust="spacingAndGlyphs">komende</tspan> <tspan x="154.30 160.23 172.48 184.72" textLength="38.59" lengthAdjust="spacingAndGlyphs">jaar</tspan> <tspan x="198.14 208.67 220.92 233.15" textLength="44.16" lengthAdjust="spacingAndGlyphs">kans</tspan> <tspan x="247.54 259.78" textLength="24.48" lengthAdjust="spacingAndGlyphs">op</tspan> <tspan x="277.27 288.67 300.06" textLength="35.03" lengthAdjust="spacingAndGlyphs">een</tspan> <tspan x="317.55 326.69 332.39 344.63 356.87 362.57 369.73 375.43 384.80 397.04 409.07 416.91" textLength="110.77" lengthAdjust="spacingAndGlyphs">significante</tspan> <tspan x="433.56 444.44 455.84 464.01 476.26 487.49 495.33 506.73 514.90 520.60 532.83" textLength="111.52" lengthAdjust="spacingAndGlyphs">verbetering</tspan> <tspan x="550.33 556.03 568.26" textLength="24.33" lengthAdjust="spacingAndGlyphs">in:</tspan></text>
<text transform="translate(688.5 1351.5) rotate(-90)" font-size="21.35" font-weight="bold" font-style="italic" fill="#000" stroke="#000" stroke-width="0.1"><tspan x="0.00 6.19" textLength="18.42" lengthAdjust="spacingAndGlyphs">In</tspan> <tspan x="23.67 35.90 47.14" textLength="31.52" lengthAdjust="spacingAndGlyphs">het</tspan> <tspan x="60.43 70.90 83.13 101.78 113.18 125.41 137.66" textLength="88.63" lengthAdjust="spacingAndGlyphs">komende</tspan> <tspan x="154.30 160.23 172.48 184.72" textLength="38.59" lengthAdjust="spacingAndGlyphs">jaar</tspan> <tspan x="198.14 208.67 220.92 233.15" textLength="44.16" lengthAdjust="spacingAndGlyphs">kans</tspan> <tspan x="247.54 259.78" textLength="24.48" lengthAdjust="spacingAndGlyphs">op</tspan> <tspan x="277.27 288.67 300.06 312.30" textLength="41.43" lengthAdjust="spacingAndGlyphs">een:</tspan></text>
<text transform="translate(344.2 1351.6) rotate(-90)" font-size="21.35" font-weight="bold" font-style="normal" fill="#000" stroke="#000" stroke-width="0.2"><tspan x="0.00 9.45 21.92 34.37 45.37 51.07 63.52 75.97 88.45 100.90" textLength="113.35" lengthAdjust="spacingAndGlyphs">Longinhoud</tspan></text>
<text transform="translate(362.4 1352.5) rotate(-90)" font-size="14.23" font-weight="normal" font-style="italic" fill="#000" stroke="#000" stroke-width="0.12"><tspan x="0.00 4.69 16.93 24.31 31.70" textLength="37.00" lengthAdjust="spacingAndGlyphs">(meer</tspan> <tspan x="40.50 48.45 56.40" textLength="23.86" lengthAdjust="spacingAndGlyphs">dan</tspan> <tspan x="67.85 75.69 83.53 91.37 103.61" textLength="42.26" lengthAdjust="spacingAndGlyphs">400mL</tspan> <tspan x="113.61 120.50 127.89 133.19 141.15 148.45 153.47 160.85 166.15 169.70 177.66" textLength="72.00" lengthAdjust="spacingAndGlyphs">verbetering</tspan> <tspan x="189.11 192.66" textLength="11.50" lengthAdjust="spacingAndGlyphs">in</tspan> <tspan x="204.11 212.23 219.62 225.64 229.19 237.14 245.10 253.05 261.00" textLength="60.44" lengthAdjust="spacingAndGlyphs">Residuaal</tspan> <tspan x="268.05 276.17 284.11 287.66 295.61 307.84 315.23" textLength="51.87" lengthAdjust="spacingAndGlyphs">Volume)</tspan></text>
<text transform="translate(458.5 1352.4) rotate(-90)" font-size="21.35" font-weight="bold" font-style="normal" fill="#000" stroke="#000" stroke-width="0.2"><tspan x="0.00 6.19 18.64 27.89 40.34 51.80 64.25 76.70 82.40 94.85 105.85 114.79 125.55 137.23 145.48 164.35 176.83 187.58 199.26" textLength="211.71" lengthAdjust="spacingAndGlyphs">Inspanningsvermogen</tspan></text>
<text transform="translate(478.5 1352.5) rotate(-90)" font-size="14.23" font-weight="normal" font-style="italic" fill="#000" stroke="#000" stroke-width="0.12"><tspan x="0.00 4.69 16.93 24.31 31.70" textLength="37.00" lengthAdjust="spacingAndGlyphs">(meer</tspan> <tspan x="40.50 48.45 56.40" textLength="23.86" lengthAdjust="spacingAndGlyphs">dan</tspan> <tspan x="67.85 75.69" textLength="15.68" lengthAdjust="spacingAndGlyphs">26</tspan> <tspan x="87.03 99.27 106.57 111.58 118.97" textLength="37.24" lengthAdjust="spacingAndGlyphs">meter</tspan> <tspan x="127.77 134.67 142.05 147.36 155.31 162.61 167.63 175.01 180.32 183.87 191.82" textLength="72.00" lengthAdjust="spacingAndGlyphs">verbetering</tspan> <tspan x="203.27 211.21" textLength="15.89" lengthAdjust="spacingAndGlyphs">op</tspan> <tspan x="222.66 230.61" textLength="15.34" lengthAdjust="spacingAndGlyphs">de</tspan></text>
<text transform="translate(495.6 1352) rotate(-90)" font-size="14.23" font-weight="normal" font-style="italic" fill="#000" stroke="#000" stroke-width="0.12"><tspan x="0.00 7.84 12.58 24.81 28.36 36.31 44.27 49.28 56.67 64.47 75.53 83.48 91.43 99.39 106.77 110.32 115.34 122.73 128.57 133.75" textLength="138.44" lengthAdjust="spacingAndGlyphs">6-minutenwandeltest)</tspan></text>
<text transform="translate(583.8 1352.6) rotate(-90)" font-size="21.35" font-weight="bold" font-style="normal" fill="#000" stroke="#000" stroke-width="0.2"><tspan x="0.00 11.73 28.77 40.22 45.92 51.62 59.38 71.06 76.76" textLength="84.80" lengthAdjust="spacingAndGlyphs">Kwaliteit</tspan> <tspan x="90.05 100.68 112.14" textLength="34.54" lengthAdjust="spacingAndGlyphs">van</tspan> <tspan x="129.83 135.53 147.10 157.86 169.54" textLength="52.16" lengthAdjust="spacingAndGlyphs">leven</tspan></text>
<text transform="translate(604.2 1352.5) rotate(-90)" font-size="14.23" font-weight="normal" font-style="italic" fill="#000" stroke="#000" stroke-width="0.12"><tspan x="0.00 4.69 16.93 24.31 31.70" textLength="37.00" lengthAdjust="spacingAndGlyphs">(meer</tspan> <tspan x="40.50 48.45 56.40" textLength="23.86" lengthAdjust="spacingAndGlyphs">dan</tspan> <tspan x="67.85" textLength="7.84" lengthAdjust="spacingAndGlyphs">7</tspan> <tspan x="79.19 87.14 95.10 102.90 107.91 115.30" textLength="44.06" lengthAdjust="spacingAndGlyphs">punten</tspan> <tspan x="126.75 133.65 141.03 146.34 154.29 161.59 166.61 173.99 179.30 182.85 190.80" textLength="72.00" lengthAdjust="spacingAndGlyphs">verbetering</tspan> <tspan x="202.25 210.19" textLength="15.89" lengthAdjust="spacingAndGlyphs">op</tspan> <tspan x="221.64 229.59" textLength="15.34" lengthAdjust="spacingAndGlyphs">de</tspan> <tspan x="240.47 247.47 257.23 265.49 275.76 280.50 287.53 298.58 306.54 310.09 313.64 318.65 326.04 329.59" textLength="94.30" lengthAdjust="spacingAndGlyphs">SGRQ-kwaliteit</tspan> <tspan x="338.27 345.16 353.12" textLength="22.80" lengthAdjust="spacingAndGlyphs">van</tspan></text>
<text transform="translate(621.2 1351.6) rotate(-90)" font-size="14.23" font-weight="normal" font-style="italic" fill="#000" stroke="#000" stroke-width="0.12"><tspan x="0.00 3.55 10.84 17.73 25.12" textLength="33.07" lengthAdjust="spacingAndGlyphs">leven</tspan> <tspan x="36.57 43.47 48.77 56.72 64.67 72.06 80.01 83.56 87.11 90.81 96.66 101.84" textLength="69.96" lengthAdjust="spacingAndGlyphs">vragenlijst)</tspan></text>
<text transform="translate(758.2 1352.4) rotate(-90)" font-size="21.35" font-weight="bold" font-style="normal" fill="#000" stroke="#000" stroke-width="0.2"><tspan x="0.00 12.69 18.39 29.84 42.29 47.99 60.46 72.91" textLength="83.92" lengthAdjust="spacingAndGlyphs">Klaplong</tspan></text>
<text transform="translate(840.2 1351.6) rotate(-90)" font-size="21.35" font-weight="bold" font-style="normal" fill="#000" stroke="#000" stroke-width="0.2"><tspan x="0.00 12.11 27.80 40.15" textLength="54.78" lengthAdjust="spacingAndGlyphs">COPD</tspan> <tspan x="60.02 71.48 82.93 95.05 105.69 117.14" textLength="62.82" lengthAdjust="spacingAndGlyphs">aanval</tspan> <tspan x="128.09 145.13 156.58 168.03 176.49 187.25 199.72 212.20" textLength="92.36" lengthAdjust="spacingAndGlyphs">waarvoor</tspan></text>
<text transform="translate(866.2 1351.6) rotate(-90)" font-size="21.35" font-weight="bold" font-style="normal" fill="#000" stroke="#000" stroke-width="0.2"><tspan x="0.00 9.22 14.92 26.60 37.10 48.78 61.23 73.69 86.14 91.83 101.09 113.56 126.01 138.47 149.92 168.79" textLength="180.47" lengthAdjust="spacingAndGlyphs">ziekenhuisopname</tspan></text>
<text transform="translate(949.3 1351.6) rotate(-90)" font-size="21.35" font-weight="bold" font-style="normal" fill="#000" stroke="#000" stroke-width="0.2"><tspan x="0.00 15.69 26.45 38.13 46.38 52.08 57.78 63.70 76.15 87.83" textLength="100.29" lengthAdjust="spacingAndGlyphs">Overlijden</tspan></text>
<text transform="translate(379.5 417.488) rotate(-90)" font-size="18.97" font-weight="bold" font-style="normal" fill="#000" stroke="#000" stroke-width="0.2"><tspan x="0.00 10.45" textLength="20.91" lengthAdjust="spacingAndGlyphs">22</tspan> <tspan x="25.57 35.03 45.21" textLength="30.70" lengthAdjust="spacingAndGlyphs">van</tspan> <tspan x="60.94 72.00" textLength="21.45" lengthAdjust="spacingAndGlyphs">de</tspan> <tspan x="87.05 97.50 107.96" textLength="31.36" lengthAdjust="spacingAndGlyphs">100</tspan> <tspan x="123.07 139.85 150.23 161.30 169.53 179.91" textLength="67.90" lengthAdjust="spacingAndGlyphs">mensen</tspan></text>
<text transform="translate(379.5 857.988) rotate(-90)" font-size="18.97" font-weight="bold" font-style="normal" fill="#000" stroke="#000" stroke-width="0.2"><tspan x="0.00 10.45" textLength="20.91" lengthAdjust="spacingAndGlyphs">64</tspan> <tspan x="25.57 35.03 45.21" textLength="30.70" lengthAdjust="spacingAndGlyphs">van</tspan> <tspan x="60.94 72.00" textLength="21.45" lengthAdjust="spacingAndGlyphs">de</tspan> <tspan x="87.05 97.50 107.96" textLength="31.36" lengthAdjust="spacingAndGlyphs">100</tspan> <tspan x="123.07 139.85 150.23 161.30 169.53 179.91" textLength="67.90" lengthAdjust="spacingAndGlyphs">mensen</tspan></text>
<text transform="translate(504.3 417.488) rotate(-90)" font-size="18.97" font-weight="bold" font-style="normal" fill="#000" stroke="#000" stroke-width="0.2"><tspan x="0.00 10.45" textLength="20.91" lengthAdjust="spacingAndGlyphs">20</tspan> <tspan x="25.57 35.03 45.21" textLength="30.70" lengthAdjust="spacingAndGlyphs">van</tspan> <tspan x="60.94 72.00" textLength="21.45" lengthAdjust="spacingAndGlyphs">de</tspan> <tspan x="87.05 97.50 107.96" textLength="31.36" lengthAdjust="spacingAndGlyphs">100</tspan> <tspan x="123.07 139.85 150.23 161.30 169.53 179.91" textLength="67.90" lengthAdjust="spacingAndGlyphs">mensen</tspan></text>
<text transform="translate(504.3 857.988) rotate(-90)" font-size="18.97" font-weight="bold" font-style="normal" fill="#000" stroke="#000" stroke-width="0.2"><tspan x="0.00 10.45" textLength="20.91" lengthAdjust="spacingAndGlyphs">60</tspan> <tspan x="25.57 35.03 45.21" textLength="30.70" lengthAdjust="spacingAndGlyphs">van</tspan> <tspan x="60.94 72.00" textLength="21.45" lengthAdjust="spacingAndGlyphs">de</tspan> <tspan x="87.05 97.50 107.96" textLength="31.36" lengthAdjust="spacingAndGlyphs">100</tspan> <tspan x="123.07 139.85 150.23 161.30 169.53 179.91" textLength="67.90" lengthAdjust="spacingAndGlyphs">mensen</tspan></text>
<text transform="translate(629.4 417.488) rotate(-90)" font-size="18.97" font-weight="bold" font-style="normal" fill="#000" stroke="#000" stroke-width="0.2"><tspan x="0.00 10.45" textLength="20.91" lengthAdjust="spacingAndGlyphs">30</tspan> <tspan x="25.57 35.03 45.21" textLength="30.70" lengthAdjust="spacingAndGlyphs">van</tspan> <tspan x="60.94 72.00" textLength="21.45" lengthAdjust="spacingAndGlyphs">de</tspan> <tspan x="87.05 97.50 107.96" textLength="31.36" lengthAdjust="spacingAndGlyphs">100</tspan> <tspan x="123.07 139.85 150.23 161.30 169.53 179.91" textLength="67.90" lengthAdjust="spacingAndGlyphs">mensen</tspan></text>
<text transform="translate(629.4 857.988) rotate(-90)" font-size="18.97" font-weight="bold" font-style="normal" fill="#000" stroke="#000" stroke-width="0.2"><tspan x="0.00 10.45" textLength="20.91" lengthAdjust="spacingAndGlyphs">56</tspan> <tspan x="25.57 35.03 45.21" textLength="30.70" lengthAdjust="spacingAndGlyphs">van</tspan> <tspan x="60.94 72.00" textLength="21.45" lengthAdjust="spacingAndGlyphs">de</tspan> <tspan x="87.05 97.50 107.96" textLength="31.36" lengthAdjust="spacingAndGlyphs">100</tspan> <tspan x="123.07 139.85 150.23 161.30 169.53 179.91" textLength="67.90" lengthAdjust="spacingAndGlyphs">mensen</tspan></text>
<text transform="translate(759 338.33) rotate(-90)" font-size="23.72" font-weight="bold" font-style="normal" fill="#000" stroke="#000" stroke-width="0.12"><tspan x="0.00 13.07" textLength="31.86" lengthAdjust="spacingAndGlyphs">1%</tspan></text>
<text transform="translate(759 784.463) rotate(-90)" font-size="23.72" font-weight="bold" font-style="normal" fill="#000" stroke="#000" stroke-width="0.12"><tspan x="0.00 13.07 26.13" textLength="44.93" lengthAdjust="spacingAndGlyphs">25%</tspan></text>
<text transform="translate(855 344.863) rotate(-90)" font-size="23.72" font-weight="bold" font-style="normal" fill="#000" stroke="#000" stroke-width="0.12"><tspan x="0.00 13.07 26.13" textLength="44.93" lengthAdjust="spacingAndGlyphs">35%</tspan></text>
<text transform="translate(855 784.463) rotate(-90)" font-size="23.72" font-weight="bold" font-style="normal" fill="#000" stroke="#000" stroke-width="0.12"><tspan x="0.00 13.07 26.13" textLength="44.93" lengthAdjust="spacingAndGlyphs">30%</tspan></text>
<text transform="translate(950 338.33) rotate(-90)" font-size="23.72" font-weight="bold" font-style="normal" fill="#000" stroke="#000" stroke-width="0.12"><tspan x="0.00 13.07" textLength="31.86" lengthAdjust="spacingAndGlyphs">4%</tspan></text>
<text transform="translate(950 777.93) rotate(-90)" font-size="23.72" font-weight="bold" font-style="normal" fill="#000" stroke="#000" stroke-width="0.12"><tspan x="0.00 13.07" textLength="31.86" lengthAdjust="spacingAndGlyphs">4%</tspan></text>
<text transform="translate(568.2 1385.5) rotate(180)" font-size="42.00" font-weight="normal" font-style="normal" fill="#000" stroke="#000" stroke-width="0"><tspan x="0.00 28.70 54.61 80.03 111.28 130.04 151.51 176.48 201.48 227.65" textLength="259.00" lengthAdjust="spacingAndGlyphs">RESULTATEN</tspan></text>
<text transform="translate(955.8 1384.6) rotate(180)" font-size="43.50" font-weight="normal" font-style="normal" fill="#fff" stroke="#fff" stroke-width="0"><tspan x="0.00 30.66 57.29 97.40 123.98 135.10 146.23 168.63 193.76 208.72 219.85 245.71" textLength="267.50" lengthAdjust="spacingAndGlyphs">Complicaties</tspan></text>
</svg>
</body></html>
